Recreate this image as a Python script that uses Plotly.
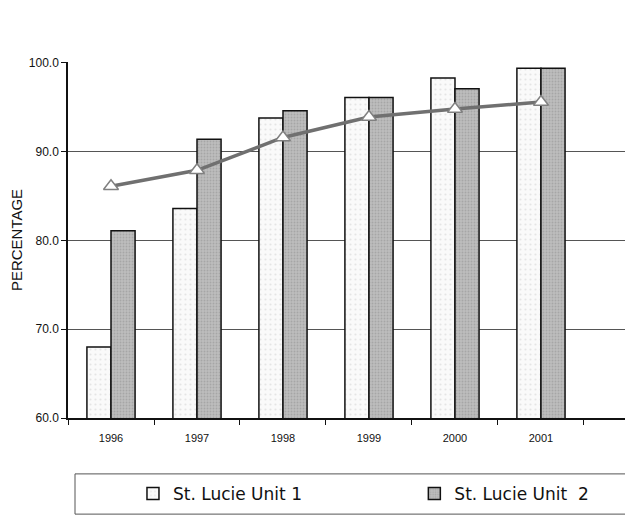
import plotly.graph_objects as go

years = ["1996", "1997", "1998", "1999", "2000", "2001"]
unit1 = [68.0, 83.6, 93.8, 96.1, 98.3, 99.4]
unit2 = [81.1, 91.4, 94.6, 96.1, 97.1, 99.4]
avg_line = [86.1, 87.9, 91.6, 93.9, 94.8, 95.6]
y_ticks = [60, 70, 80, 90, 100]

fig = go.Figure()
fig.add_trace(go.Bar(
    x=years, y=unit1, name="St. Lucie Unit 1", legend="legend",
    marker=dict(color="#f6f6f6", line=dict(color="#111111", width=1.5),
                pattern=dict(shape=".", fgcolor="#cfcfcf", bgcolor="#fafafa", size=5, solidity=0.15)),
))
fig.add_trace(go.Bar(
    x=years, y=unit2, name="St. Lucie Unit  2", legend="legend2",
    marker=dict(color="#b3b3b3", line=dict(color="#111111", width=1.5),
                pattern=dict(shape=".", fgcolor="#8f8f8f", bgcolor="#bdbdbd", size=3, solidity=0.3)),
))
fig.add_trace(go.Scatter(
    x=years, y=avg_line, mode="lines+markers", showlegend=False,
    line=dict(color="#707070", width=3.5),
    marker=dict(symbol="triangle-up", size=13, color="white",
                line=dict(color="#808080", width=1.5)),
))

leg_common = dict(orientation="h", xanchor="left", y=-0.213, yanchor="middle",
                  bgcolor="rgba(0,0,0,0)",
                  font=dict(size=17, family="DejaVu Sans", color="#111111"))
fig.update_layout(
    width=633, height=516,
    margin=dict(l=60, r=8, t=54, b=106, autoexpand=False),
    plot_bgcolor="white", paper_bgcolor="white",
    barmode="group", bargap=0.44, bargroupgap=0,
    font=dict(family="Liberation Sans, Arial", color="#111111"),
    legend=dict(x=0.115, **leg_common),
    legend2=dict(x=0.613, **leg_common),
    shapes=[dict(type="rect", xref="paper", yref="paper",
                 x0=0.0124, x1=0.989, y0=-0.157, y1=-0.270,
                 line=dict(color="#555555", width=1))],
)
fig.update_xaxes(
    range=[-0.5, 6.07], showline=True, linecolor="#111111", linewidth=1.5,
    ticks="outside", tickson="boundaries", ticklen=5, tickcolor="#111111",
    tickfont=dict(size=11), showgrid=False, ticklabelstandoff=9,
)
fig.update_yaxes(
    range=[60, 100.1], tickvals=y_ticks, tickformat=".1f",
    showline=True, linecolor="#111111", linewidth=1.5,
    ticks="outside", ticklen=5, tickcolor="#111111", tickfont=dict(size=12),
    gridcolor="#555555", gridwidth=1,
    title=dict(text="PERCENTAGE", font=dict(size=15), standoff=6),
)
fig.write_html("out.html")
